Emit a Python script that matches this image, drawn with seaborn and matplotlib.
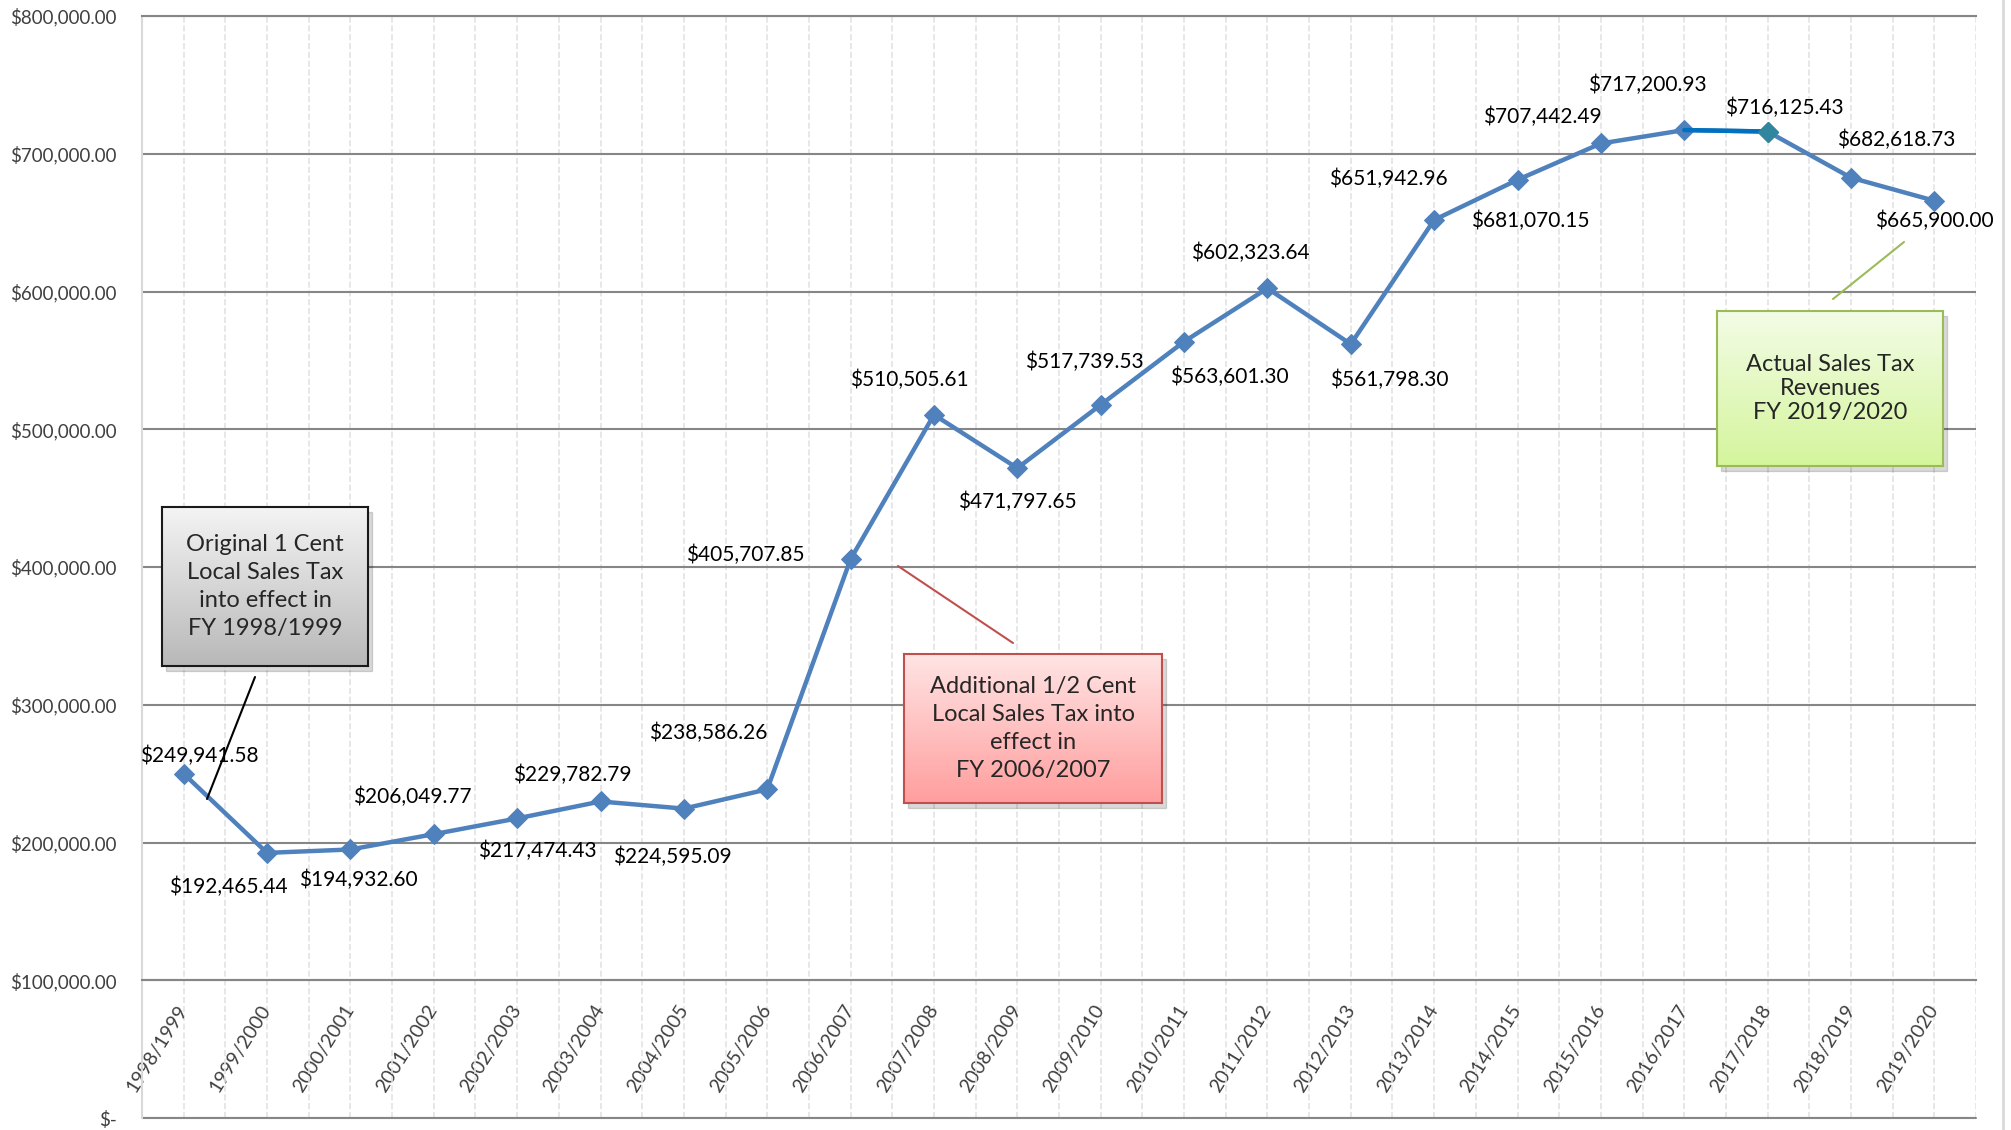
import numpy as np
import pandas as pd
import seaborn as sns
import matplotlib.pyplot as plt
from matplotlib.ticker import FuncFormatter, MultipleLocator
from matplotlib.lines import Line2D
from matplotlib.patches import Rectangle
from matplotlib.colors import LinearSegmentedColormap

# Datos
years = ['1998/1999', '1999/2000', '2000/2001', '2001/2002', '2002/2003', '2003/2004',
         '2004/2005', '2005/2006', '2006/2007', '2007/2008', '2008/2009', '2009/2010',
         '2010/2011', '2011/2012', '2012/2013', '2013/2014', '2014/2015', '2015/2016',
         '2016/2017', '2017/2018', '2018/2019', '2019/2020']
revenue = [249941.58, 192465.44, 194932.60, 206049.77, 217474.43, 229782.79,
           224595.09, 238586.26, 405707.85, 510505.61, 471797.65, 517739.53,
           563601.30, 602323.64, 561798.30, 651942.96, 681070.15, 707442.49,
           717200.93, 716125.43, 682618.73, 665900.00]

# offsets of the value labels (pixels)
label_dx = [16, -39, 8, -21, 20, -28, -12, -59, -105, -25, 0, -16,
            45, -17, 38, -46, 13, -59, -37, 17, 45, 0]
label_dy = [18, -34, -30, 37, -32, 27, -48, 56, 4, 35, -34, 43,
            -35, 35, -36, 41, -41, 27, 45, 24, 38, -20]

df = pd.DataFrame({'pos': np.arange(len(years)), 'revenue': revenue})

W, H = 2011, 1130
sns.set_style('white')
plt.rcParams['font.family'] = ['Lato', 'DejaVu Sans']

fig = plt.figure(figsize=(W / 100, H / 100), dpi=100)
ax = fig.add_axes([142 / W, 1 - 1118 / H, (1976 - 142) / W, (1118 - 16) / H])

blue = '#4F81BD'
sns.lineplot(data=df, x='pos', y='revenue', ax=ax, color=blue, lw=3.2,
             marker='D', markersize=10, markeredgecolor=blue, zorder=4)
# segmento resaltado 2016/2017 - 2017/2018
sns.lineplot(data=df.iloc[18:20], x='pos', y='revenue', ax=ax, color='#0070C0', lw=3.2, zorder=5)
ax.plot(df['pos'].iloc[19], df['revenue'].iloc[19], 'D', color='#31859C', markersize=10, zorder=6)

for i, v in enumerate(revenue):
    ax.annotate(f'${v:,.2f}', xy=(i, v), xytext=(label_dx[i], label_dy[i]),
                textcoords='offset pixels', ha='center', va='center',
                fontsize=15, color='black', zorder=7)

# ejes (la posicion del spine primero, porque reinicia los ticks)
ax.spines['bottom'].set_position(('data', 100000))
ax.spines['bottom'].set_color('#868686')
ax.spines['bottom'].set_linewidth(1.5)
ax.spines['top'].set_color('#868686')
ax.spines['top'].set_linewidth(1.5)
ax.spines['left'].set_color('#D9D9D9')
ax.spines['left'].set_linewidth(1.5)
ax.spines['right'].set_visible(False)

ax.set_xlim(-0.5, len(years) - 0.5)
ax.set_ylim(0, 800000)
ax.set_xlabel('')
ax.set_ylabel('')
ax.yaxis.set_major_locator(MultipleLocator(100000))
ax.yaxis.set_major_formatter(FuncFormatter(lambda v, p: '$-' if v == 0 else f'${v:,.2f}'))
ax.tick_params(axis='y', length=4, width=1.2, color='#868686', labelsize=13.5,
               labelcolor='#404040', pad=14)

ax.set_xticks(df['pos'])
ax.set_xticklabels(years, rotation=58, ha='right', va='center', rotation_mode='anchor')
ax.set_xticks(np.arange(-0.5, len(years), 1), minor=True)
ax.tick_params(axis='x', which='major', length=0, labelsize=14, labelcolor='#404040', pad=19)
ax.tick_params(axis='x', which='minor', direction='inout', length=14, width=1.5, color='#868686')

ax.grid(axis='y', color='#868686', lw=1.5)
ax.grid(axis='x', which='both', color='#E3E3E3', lw=1.2, linestyle='--')
ax.axhline(0, color='#868686', lw=1.5, clip_on=False)
ax.set_axisbelow(True)

fig.add_artist(Line2D([2003 / W, 2003 / W], [0, 1], color='#D9D9D9', lw=2))


def callout(x0, y0, x1, y1, top, bottom, edge, text, spacing):
    fig.add_artist(Rectangle(((x0 + 4) / W, 1 - (y1 + 5) / H), (x1 - x0) / W, (y1 - y0) / H,
                             color='black', alpha=0.15, zorder=5))
    bax = fig.add_axes([x0 / W, 1 - y1 / H, (x1 - x0) / W, (y1 - y0) / H], zorder=6)
    grad = np.linspace(0, 1, 256).reshape(-1, 1)
    cmap = LinearSegmentedColormap.from_list('g', [top, bottom])
    bax.imshow(grad, aspect='auto', cmap=cmap, extent=[0, 1, 0, 1], origin='upper')
    bax.set_xticks([])
    bax.set_yticks([])
    for s in bax.spines.values():
        s.set_color(edge)
        s.set_linewidth(1.5)
    bax.text(0.5, 0.5, text, ha='center', va='center', fontsize=17,
             transform=bax.transAxes, linespacing=spacing)


def pointer(x0, y0, x1, y1, color):
    fig.add_artist(Line2D([x0 / W, x1 / W], [1 - y0 / H, 1 - y1 / H], color=color, lw=1.5, zorder=8))


callout(162, 507, 368, 666, '#F4F4F4', '#B8B8B8', '#1A1A1A',
        'Original 1 Cent\nLocal Sales Tax\ninto effect in\nFY 1998/1999', 1.4)
pointer(255, 677, 207, 799, 'black')

callout(904, 654, 1162, 803, '#FFE4E4', '#FF9E9E', '#C0504D',
        'Additional 1/2 Cent\nLocal Sales Tax into\neffect in\nFY 2006/2007', 1.4)
pointer(898, 566, 1013, 643, '#C0504D')

callout(1717, 311, 1943, 466, '#F3FCE6', '#D4F59C', '#9BBB59',
        'Actual Sales Tax\nRevenues\nFY 2019/2020', 1.15)
pointer(1904, 242, 1833, 299, '#9BBB59')

plt.savefig('out.png', dpi=100)
